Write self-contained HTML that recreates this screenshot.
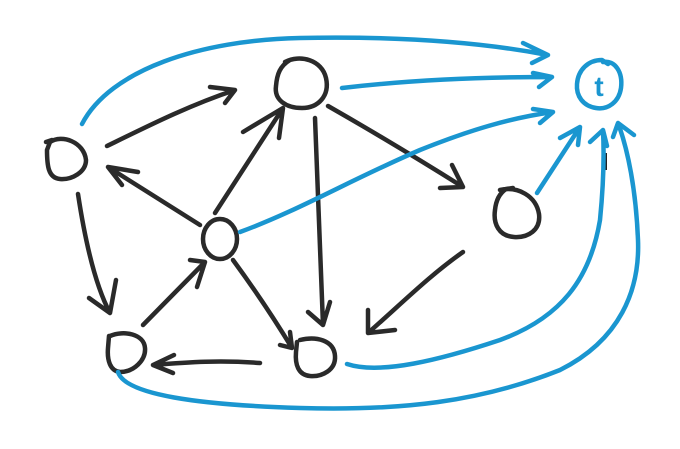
<!DOCTYPE html>
<html><head><meta charset="utf-8"><style>html,body{margin:0;padding:0;background:#fff}svg{display:block}</style></head>
<body>
<svg width="680" height="449" viewBox="0 0 680 449" xmlns="http://www.w3.org/2000/svg">
<g fill="none" stroke="#2a2a2a" stroke-width="4.5" stroke-linecap="round" stroke-linejoin="round">
<!-- nodes -->
<path d="M50,142 C62,134 84,142 86,160 C86,172 72,180 60,179 C48,178 47,165 47,150 Z M46,142 L52,140"/>
<path d="M285,62 C300,54 322,60 326,78 C330,96 318,108 302,108 C286,108 274,100 276,86 C277,74 280,66 290,60"/>
<ellipse cx="220" cy="239" rx="17" ry="20"/>
<path d="M500,190 C518,186 536,196 539,214 C541,230 528,238 514,237 C499,236 493,224 495,210 C496,200 500,193 506,189 L513,188"/>
<path d="M110,336 C124,330 144,334 145,348 C146,360 134,372 120,372 C110,371 107,360 108,348 L109,336"/>
<path d="M300,340 C316,336 334,340 335,356 C336,370 322,377 310,376 C298,375 295,364 296,352 L297,342"/>
<!-- arrows -->
<path d="M107,146 C150,125 190,105 235,90 M210,87 L235,90 L225,103"/>
<path d="M215,213 L283,108 M243,132 L283,108 L279,138"/>
<path d="M200,225 L108,167 M138,172 L108,167 L122,185"/>
<path d="M78,194 C85,240 95,285 110,313 M89,298 L110,313 L116,280"/>
<path d="M143,325 L205,262 M190,260 L205,262 L197,287"/>
<path d="M233,260 C255,290 275,320 292,348 M280,345 L292,348 L290,332"/>
<path d="M315,118 C318,190 320,260 323,325 M308,312 L323,325 L330,302"/>
<path d="M260,363 C220,360 190,362 153,365 M174,355 L153,365 L173,373"/>
<path d="M328,106 C370,130 420,160 463,187 M452,165 L463,187 L440,188"/>
<path d="M463,252 C430,275 400,305 368,333 M368,310 L368,333 L395,330"/>
</g>
<line x1="606" y1="153" x2="606" y2="170" stroke="#222" stroke-width="2"/>
<g fill="none" stroke="#1a96d0" stroke-width="4.5" stroke-linecap="round" stroke-linejoin="round">
<path d="M603,62 C615,60 623,72 621,88 C619,102 608,110 596,108 C583,106 576,96 577,84 C578,70 588,60 602,60 L608,64"/>
<path d="M82,124 C110,70 200,40 300,38 C400,36 480,42 548,55 M523,43 L548,55 L532,63"/>
<path d="M342,88 C410,80 480,77 552,77 M533,73 L552,77 L539,87"/>
<path d="M240,232 C300,210 350,180 420,150 C470,130 510,118 553,112 M533,109 L553,112 L540,123"/>
<path d="M537,193 L580,127 M560,138 L580,127 L578,145"/>
<path d="M347,364 C380,375 440,360 500,340 C560,318 590,280 600,220 C604,180 604,150 603,130 M590,142 L603,130 L607,146"/>
<path d="M118,372 C125,395 200,405 300,408 C400,411 480,402 560,370 C620,340 640,290 638,240 C636,190 628,150 618,123 M613,137 L618,123 L634,135"/>
</g>
<text x="599" y="96" font-family="Liberation Sans, sans-serif" font-size="28" font-weight="bold" fill="#1a96d0" text-anchor="middle">t</text>
</svg>
</body></html>
